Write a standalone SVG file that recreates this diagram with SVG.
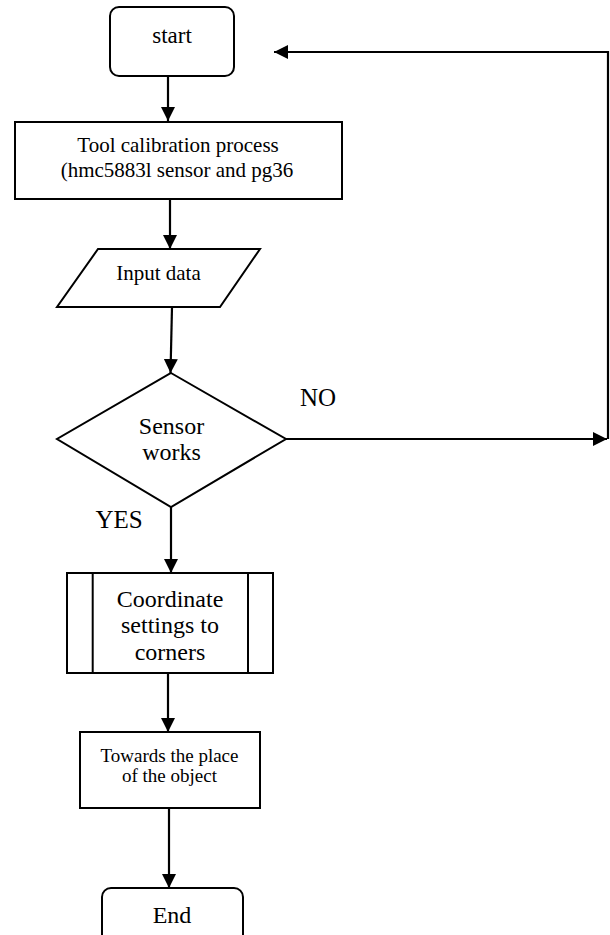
<svg xmlns="http://www.w3.org/2000/svg" width="610" height="935" viewBox="0 0 610 935">
<style>
.s{fill:#fff;stroke:#000;stroke-width:2}
text{font-family:"Liberation Serif","Times New Roman",serif;fill:#000;text-anchor:middle}
.c{fill:none;stroke:#000;stroke-width:2.2}
</style>
<defs>
<marker id="ah" viewBox="0 0 10 10" refX="10" refY="5" markerWidth="14" markerHeight="14" markerUnits="userSpaceOnUse" orient="auto">
<path d="M0,0 L10,5 L0,10 Z" fill="#000"/>
</marker>
</defs>
<rect width="610" height="935" fill="#fff"/>
<g id="connectors">
<line class="c" x1="168" y1="76" x2="168" y2="121" marker-end="url(#ah)"/>
<line class="c" x1="170" y1="199" x2="170" y2="249" marker-end="url(#ah)"/>
<line class="c" x1="172" y1="307" x2="170.5" y2="373" marker-end="url(#ah)"/>
<line class="c" x1="171" y1="507" x2="171" y2="573" marker-end="url(#ah)"/>
<line class="c" x1="168" y1="673" x2="168" y2="732" marker-end="url(#ah)"/>
<line class="c" x1="169" y1="808" x2="169" y2="888" marker-end="url(#ah)"/>
<line class="c" x1="286" y1="439" x2="607" y2="439" marker-end="url(#ah)"/>
<polyline class="c" points="608,439 608,52 274,52" marker-end="url(#ah)"/>
<text x="318" y="406" font-size="25">NO</text>
<text x="119" y="528" font-size="25">YES</text>
</g>
<g id="start">
<rect class="s" x="110" y="7" width="124" height="69" rx="9"/>
<text x="172" y="43" font-size="23">start</text>
</g>
<g id="calibration">
<rect class="s" x="15" y="122" width="327" height="77"/>
<text x="178" y="152" font-size="21">Tool calibration process</text>
<text x="177" y="177" font-size="21">(hmc5883l sensor and pg36</text>
</g>
<g id="input">
<polygon class="s" points="98,249 260,249 220,307 57,307"/>
<text x="158.5" y="280" font-size="21">Input data</text>
</g>
<g id="decision">
<polygon class="s" points="171,373 286,439 171,507 57,439"/>
<text x="171.5" y="434" font-size="24">Sensor</text>
<text x="171.5" y="460" font-size="24">works</text>
</g>
<g id="coordinate">
<rect class="s" x="67" y="573" width="206" height="100"/>
<line class="s" x1="92.7" y1="573" x2="92.7" y2="673"/>
<line class="s" x1="248" y1="573" x2="248" y2="673"/>
<text x="170" y="607" font-size="24">Coordinate</text>
<text x="170" y="633" font-size="24">settings to</text>
<text x="170" y="660" font-size="24">corners</text>
</g>
<g id="towards">
<rect class="s" x="80" y="732" width="180" height="76"/>
<text x="169.5" y="762" font-size="19">Towards the place</text>
<text x="169.5" y="782" font-size="19">of the object</text>
</g>
<g id="end">
<rect class="s" x="102" y="888" width="141" height="55" rx="9"/>
<text x="172" y="923" font-size="24">End</text>
</g>
</svg>
